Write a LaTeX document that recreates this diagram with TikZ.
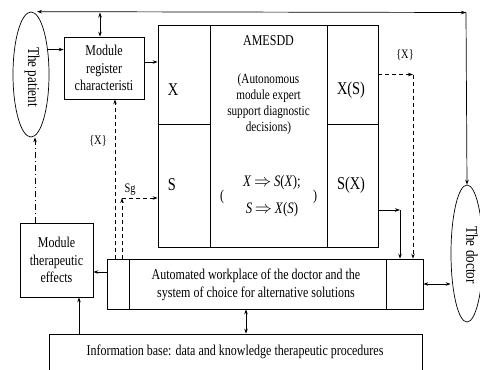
\documentclass[tikz,border=0pt]{standalone}
\usepackage{fontspec}
\setmainfont{Liberation Serif}[FakeStretch=0.8]
\usetikzlibrary{shapes.geometric,arrows.meta,calc}
\begin{document}
\begin{tikzpicture}[x=1pt,y=-1pt,line width=0.7pt,
  >={Stealth[length=5pt,width=3.5pt]},
  every node/.style={font=\fontsize{15}{17.5}\selectfont,inner sep=0pt,align=center},
  boxnode/.style={draw,rectangle},
  dsh/.style={dash pattern=on 4pt off 3pt},
  dshdot/.style={dash pattern=on 6pt off 3pt on 1pt off 3pt},
  lbl/.style={font=\fontsize{13}{15}\selectfont},
  elllbl/.style={rotate=-90,font=\fontsize{16.5}{18}\selectfont}]
\useasboundingbox (0,0) rectangle (480,370);
% ellipses
\node[draw,ellipse,minimum width=36pt,minimum height=125pt] (patient) at (31,74.5) {};
\node[elllbl] (patientlbl) at (32,77) {The patient};
\node[draw,ellipse,minimum width=32pt,minimum height=137pt] (doctor) at (467,253.5) {};
\node[elllbl] (doctorlbl) at (472,255) {The doctor};
% boxes
\node[boxnode,minimum width=80pt,minimum height=62pt] (reg) at (104,68) {Module\\register\\characteristi};
\node[boxnode,minimum width=73pt,minimum height=74pt] (ther) at (56.5,260) {Module\\therapeutic\\effects};
\node[boxnode,minimum width=316pt,minimum height=50pt] (work) at (265,284) {};
\draw ([xshift=22.5pt]work.north west) -- ([xshift=22.5pt]work.south west);
\draw ([xshift=-37pt]work.north east) -- ([xshift=-37pt]work.south east);
\node (worktxt) at (256,285) {Automated workplace of the doctor and the\\system of choice for alternative solutions};
\node[boxnode,minimum width=373pt,minimum height=46pt] (info) at (235.5,357) {};
\node (infotxt) at (235,352) {Information base: data and knowledge therapeutic procedures};
% AMESDD cells
\node[boxnode,minimum width=52pt,minimum height=99pt] (cellX) at (184,74.5) {};
\node[boxnode,minimum width=52pt,minimum height=123pt] (cellS) at (184,185.5) {};
\node[boxnode,minimum width=117pt,minimum height=222pt] (mid) at (268.5,136) {};
\node[boxnode,minimum width=51pt,minimum height=99pt] (cellXS) at (352.5,74.5) {};
\node[boxnode,minimum width=51pt,minimum height=123pt] (cellSX) at (352.5,185.5) {};
\node[font=\fontsize{18}{20}\selectfont] (lblX) at (173,90) {X};
\node[font=\fontsize{18}{20}\selectfont] (lblS) at (172,185) {S};
\node[font=\fontsize{18}{20}\selectfont] (lblXS) at (351,90) {X(S)};
\node[font=\fontsize{18}{20}\selectfont] (lblSX) at (351,185) {S(X)};
\node (midtitle) at (268.5,41) {AMESDD};
\node[font=\fontsize{14}{16}\selectfont] (middesc) at (268.5,104) {(Autonomous\\module expert\\support diagnostic\\decisions)};
\node[font=\fontsize{16}{27}\selectfont] (midmath) at (272,196.5) {\textit{X}\,$\Rightarrow$\,\textit{S}(\textit{X});\\\textit{S}\,$\Rightarrow$\,\textit{X}(\textit{S})};
\node (lpar) at (222,197) {(};
\node (rpar) at (315,197) {)};
% coordinates
\coordinate (tr) at (466,12.5);
\coordinate (c1) at (413,74.5);
\coordinate (c2) at (400,210);
\coordinate (c3) at (122,198);
% connectors
\draw[->] (tr) -- ([xshift=6pt]patient.north);
\draw[->] (tr) -- (doctor.north);
\draw[->] ([xshift=-8pt]tr) -- (tr);
\draw[<->] ([xshift=-4pt]reg.north) -- ([xshift=-4pt]reg.north |- tr);
\draw[->] (patient.56) -- (patient.56 -| reg.west);
\draw[->] ([yshift=6pt]reg.east) -- ([yshift=6pt]reg.east -| cellX.west);
\draw[dsh,->] (cellXS.east) -- (c1);
\draw[dsh,->] (c1) -- (c1 |- work.north);
\draw[->] (c2 -| cellSX.east) -- (c2);
\draw[->] (c2) -- (c2 |- work.north);
\draw[<->] (work.east) -- (doctor.west |- work.east);
\draw[->] ([yshift=12pt]work.west) -- ([yshift=12pt]work.west -| ther.east);
\draw[->] ([xshift=22.5pt]ther.south |- info.north) -- ([xshift=22.5pt]ther.south);
\draw[<->] ([xshift=-19pt]work.south) -- ([xshift=-19pt]work.south |- info.north);
\draw[dshdot,->] ([xshift=-21.5pt]ther.north) -- ([xshift=-21.5pt]ther.north |- patient.south);
\draw[dsh,->] ([xshift=-150pt]work.north) -- ([xshift=-150pt]work.north |- reg.south);
\draw[dsh,->] (c3 |- work.north) -- (c3);
\draw[dsh,->] (c3) -- (c3 -| cellS.west);
% labels
\node[lbl] (lblX1) at (98,141) {\{X\}};
\node[lbl] (lblX2) at (405,55) {\{X\}};
\node[lbl] (lblSg) at (130,190) {Sg};
\end{tikzpicture}
\end{document}
